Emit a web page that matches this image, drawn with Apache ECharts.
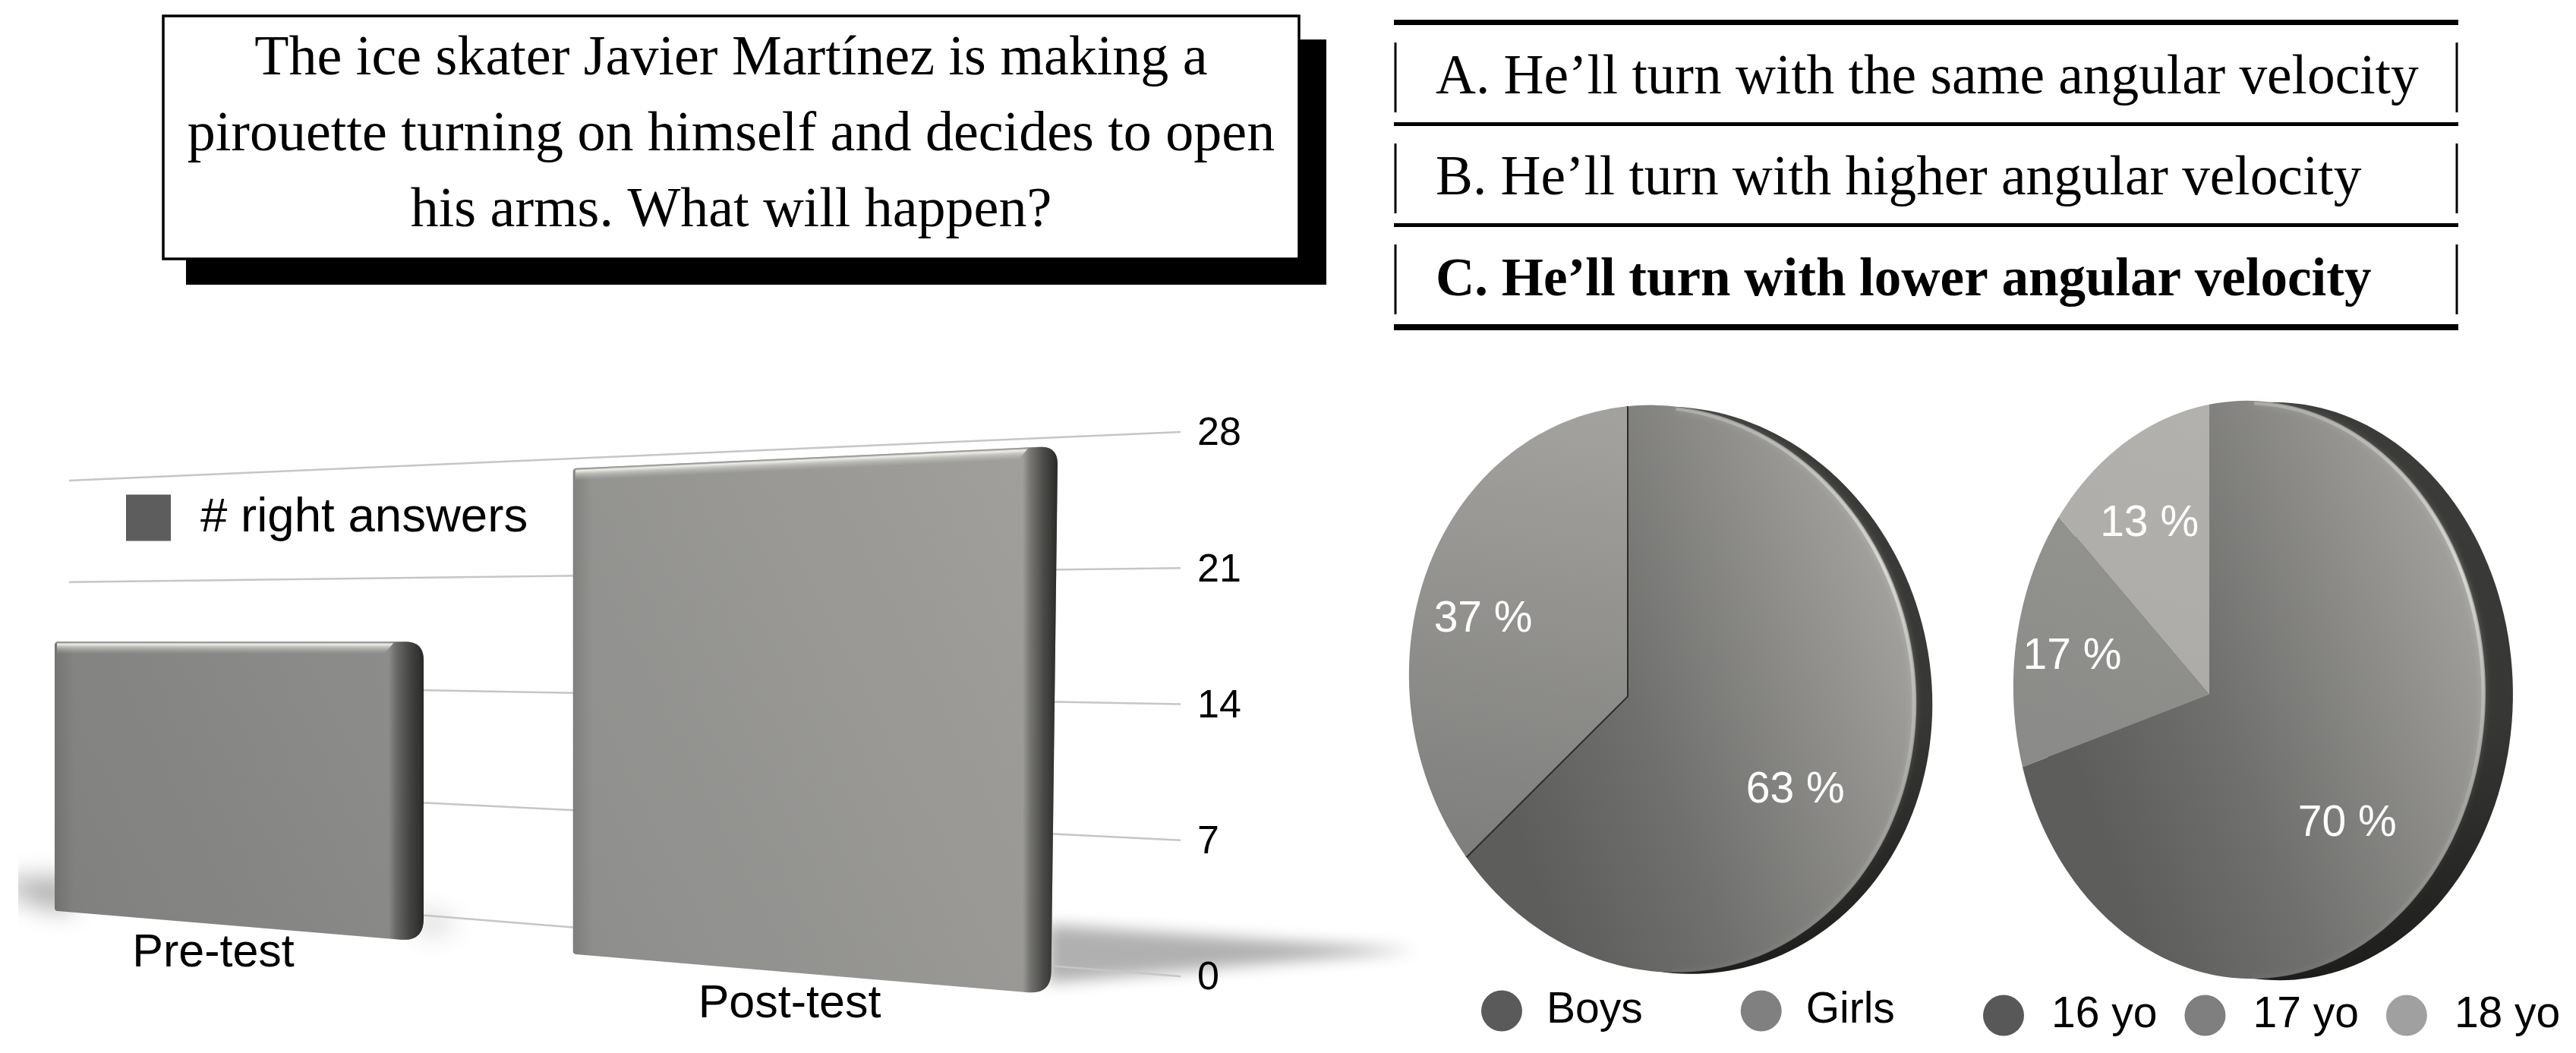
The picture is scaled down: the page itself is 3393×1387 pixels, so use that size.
<!DOCTYPE html>
<html>
<head>
<meta charset="utf-8">
<style>html,body{margin:0;padding:0;background:#fff}#c{width:3393px;height:1387px}</style>
<script src="https://cdn.jsdelivr.net/npm/echarts@6/dist/echarts.min.js"></script>
</head>
<body>
<div id="c"></div>
<script>
// ---------- data ----------
const categories = ['Pre-test', 'Post-test'];
const rightAnswers = [18, 28];
const barSeriesName = '# right answers';
const tickValues = [0, 7, 14, 21, 28];
const genderNames = ['Boys', 'Girls'];
const genderValues = [63, 37];
const ageNames = ['16 yo', '17 yo', '18 yo'];
const ageValues = [70, 17, 13];
const questionLines = [
  'The ice skater Javier Martínez is making a',
  'pirouette turning on himself and decides to open',
  'his arms. What will happen?'
];
const answerLines = [
  'A. He’ll turn with the same angular velocity',
  'B. He’ll turn with higher angular velocity',
  'C. He’ll turn with lower angular velocity'
];

// ---------- projection of the tilted bar chart ----------
const lerp = (a, b, t) => a + (b - a) * t;
const BACK = {xL: 91, xR: 1555, y0L: 1168, y0R: 1286, yTL: 633, yTR: 569};
const FRONT = {xL: 75, xR: 1385, y0L: 1200, y0R: 1309, yTL: 648, yTR: 588};
const GRID_W = 1450, X_STRETCH = 757 / 725;
const screenX = x => 315 + (x - GRID_W / 4) * X_STRETCH;
function planeY(pl, x, f) {
  const t = (x - pl.xL) / (pl.xR - pl.xL);
  return lerp(lerp(pl.y0L, pl.y0R, t), lerp(pl.yTL, pl.yTR, t), f);
}
function frac(api, v) {
  const b = api.coord([0, 0])[1], t = api.coord([0, 28])[1], p = api.coord([0, v])[1];
  return (b - p) / (b - t);
}
function barBox(api) {
  const i = api.value(0), v = api.value(1);
  const xc = screenX(api.coord([i, 0])[0]) + (i ? 2 : 0), band = api.size([1, 0])[0] * X_STRETCH;
  const w = band * lerp(0.642, 0.843, (xc - 315) / 757);
  const x0 = xc - w / 2, x1 = xc + w / 2, f = frac(api, v);
  const lean = (x, g) => x - Math.max(0, x - 740) * 0.0138 * (1 - g);
  return {i, xc, w, x0, x1, f,
    tl: [x0, planeY(FRONT, x0, f)], tr: [x1, planeY(FRONT, x1, f)],
    br: [lean(x1, 0), planeY(FRONT, x1, 0)], bl: [x0, planeY(FRONT, x0, 0)]};
}
function rounded(pts, radii) {
  const out = [], n = pts.length;
  pts.forEach((p, k) => {
    const a = pts[(k + n - 1) % n], b = pts[(k + 1) % n], r = radii[k];
    const la = Math.hypot(a[0] - p[0], a[1] - p[1]), lb = Math.hypot(b[0] - p[0], b[1] - p[1]);
    const s = [p[0] + (a[0] - p[0]) * r / la, p[1] + (a[1] - p[1]) * r / la];
    const e = [p[0] + (b[0] - p[0]) * r / lb, p[1] + (b[1] - p[1]) * r / lb];
    for (let j = 0; j <= 10; j++) {
      const u = j / 10;
      out.push([
        (1 - u) * (1 - u) * s[0] + 2 * u * (1 - u) * p[0] + u * u * e[0],
        (1 - u) * (1 - u) * s[1] + 2 * u * (1 - u) * p[1] + u * u * e[1]
      ]);
    }
  });
  return out;
}
const LG = (x, y, x2, y2, stops, g) => new echarts.graphic.LinearGradient(x, y, x2, y2,
  stops.map(s => ({offset: s[0], color: s[1]})), g);
const OFF = 6000;
function softShape(pts, blur, alpha) {
  return {type: 'polygon', silent: true,
    shape: {points: pts.map(p => [p[0] - OFF, p[1]])},
    style: {fill: '#000', shadowColor: 'rgba(0,0,0,' + alpha + ')', shadowBlur: blur, shadowOffsetX: OFF}};
}
function renderFloorShadow(params, api) {
  const b = barBox(api), br = b.br, ch = [];
  if (b.i === 0) {
    ch.push(softShape([[b.bl[0] + 20, b.bl[1] - 42], [b.bl[0] - 80, b.bl[1] - 38], [b.bl[0] - 50, b.bl[1] - 20], [b.bl[0] + 20, b.bl[1] + 2]], 34, 0.38));
    ch.push({type: 'rect', silent: true, shape: {x: 0, y: 1050, width: 24, height: 260}, style: {fill: '#fff'}});
    ch.push(softShape([[br[0] - 5, br[1] - 42], [br[0] + 50, br[1] - 22], [br[0] - 5, br[1] - 8]], 34, 0.2));
  } else {
    ch.push(softShape([[br[0] - 5, br[1] - 92], [br[0] + 480, br[1] - 58], [br[0] - 5, br[1] - 15]], 20, 0.31));
  }
  return {type: 'group', children: ch};
}
function renderGridLine(params, api) {
  const f = frac(api, api.value(1));
  return {type: 'line', silent: true,
    shape: {x1: BACK.xL, y1: planeY(BACK, BACK.xL, f), x2: BACK.xR, y2: planeY(BACK, BACK.xR, f)},
    style: {stroke: '#c6c6c6', lineWidth: 2.4}};
}
function renderBar(params, api) {
  const b = barBox(api);
  const outline = rounded([b.tl, b.tr, b.br, b.bl], [5, 24, 30, 4]);
  const s = 46 / b.w, sl = 26 / b.w;
  const m = (b.tr[1] - b.tl[1]) / (b.tr[0] - b.tl[0]);
  const xm = (b.x0 + b.x1) / 2, ym = (b.tl[1] + b.tr[1]) / 2;
  const hl = 16;
  const edge = (x, d) => [x, b.tl[1] + (x - b.x0) * m + d];
  return {type: 'group', children: [
    {type: 'polygon', silent: true, shape: {points: outline},
      style: {fill: LG(60, 1260, 1360, 620, [[0, '#7f7f7d'], [0.45, '#8e8e8c'], [1, '#a09f9c']], true)}},
    {type: 'polygon', silent: true, shape: {points: outline},
      style: {fill: LG(0, 0, 1, 0, [[0, 'rgba(40,40,38,.16)'], [sl, 'rgba(40,40,38,0)'], [1 - s, 'rgba(35,35,33,0)'], [1 - s * 0.78, 'rgba(35,35,33,.33)'], [1 - s * 0.4, 'rgba(35,35,33,.68)'], [1, 'rgba(35,35,33,.95)']])}},
    {type: 'polygon', silent: true,
      shape: {points: [edge(b.x0 + 3, 0), edge(b.x1 - 38, 0), edge(b.x1 - 52, hl), edge(b.x0 + 3, hl)]},
      style: {fill: LG(xm, ym, xm - m * hl, ym + hl, [[0, 'rgba(120,120,118,.5)'], [0.2, 'rgba(245,245,240,.95)'], [0.5, 'rgba(225,225,220,.5)'], [1, 'rgba(200,200,195,0)']], true)}},
    {type: 'text', silent: true,
      style: {text: categories[b.i], x: b.xc - 34, y: planeY(FRONT, b.xc, 0) + (b.i ? 40 : 36), fill: '#000',
        font: '61px "Liberation Sans"', align: 'center', verticalAlign: 'middle', textAlign: 'center', textVerticalAlign: 'middle'}}
  ]};
}

// ---------- projection of the tilted pies ----------
const PIE_A = {A: 327.4, E: 369, D: 20, g: -0.1407, h: 0.0336, side: 21};
const PIE_B = {A: 302, E: 375, D: 5, g: -0.170, h: 0.019, side: 36};
function pieProject(api, H, r, ang) {
  const c = api.coord([0, 0]), e = api.coord([1, 25]), R = Math.hypot(e[0] - c[0], e[1] - c[1]);
  const p = api.coord([r, ang]);
  const ux = (p[0] - c[0]) / R, uy = (p[1] - c[1]) / R;
  const den = 1 + H.g * ux + H.h * uy;
  return [c[0] + H.A * ux / den, c[1] + (H.D * ux + H.E * uy) / den];
}
function arc(api, H, a, b, r) {
  const n = Math.max(2, Math.ceil(Math.abs(b - a) * 2)), pts = [];
  for (let k = 0; k <= n; k++) pts.push(pieProject(api, H, r === undefined ? 1 : r, a + (b - a) * k / n));
  return pts;
}
function pieBase(H) {
  return (params, api) => {
    const pts = arc(api, H, 0, 100).map(p => [p[0] + H.side, p[1] + 2]);
    return {type: 'polygon', silent: true, shape: {points: pts},
      style: {fill: LG(0, 500, 0, 1300, [[0, '#3c3c3a'], [0.55, '#373735'], [1, '#1c1c1a']], true)}};
  };
}
function pieRim(H) {
  return (params, api) => ({type: 'polyline', silent: true,
    shape: {points: arc(api, H, 3, 47, 0.992)},
    style: {fill: null, stroke: LG(0, 540, 0, 1250, [[0, 'rgba(205,205,200,.45)'], [0.3, 'rgba(222,222,217,.9)'], [0.62, 'rgba(190,190,186,.55)'], [1, 'rgba(170,170,165,.05)']], true), lineWidth: 4,
      shadowBlur: 8, shadowColor: 'rgba(205,205,200,.7)'}});
}
function pieSlice(H, names, fillFn, divider) {
  return (params, api) => {
    const s = api.value(0), e = api.value(1), c = pieProject(api, H, 0, 0);
    const pts = arc(api, H, s, e); pts.push(c);
    const mid = pieProject(api, H, 0.68, (s + e) / 2);
    const ch = [{type: 'polygon', silent: true, shape: {points: pts}, style: {fill: fillFn(c)}}];
    if (divider) ch.push({type: 'polyline', silent: true,
      shape: {points: [pts[pts.length - 2], c, pts[0]]},
      style: {fill: null, stroke: '#2b2b29', lineWidth: 4}});
    ch.push({type: 'text', silent: true, z2: 10, style: {text: Math.round(e - s) + ' %', x: mid[0], y: mid[1] + 3, fill: '#fff',
      font: '57px "Liberation Sans"', align: 'center', verticalAlign: 'middle', textAlign: 'center', textVerticalAlign: 'middle'}});
    return {type: 'group', children: ch};
  };
}
const darkFace = c => LG(c[0] - 143, c[1] + 183, c[0] + 387, c[1] - 17, [[0, '#5d5d5b'], [0.35, '#6f6f6d'], [1, '#a09f9c']], true);
const girlsFace = c => LG(c[0] - 90, c[1] - 370, c[0] - 190, c[1] + 220, [[0, '#a2a19e'], [1, '#7e7e7c']], true);
const age17Face = c => LG(c[0] - 100, c[1] - 200, c[0] - 200, c[1] + 100, [[0, '#92928f'], [1, '#8a8a88']], true);
const age18Face = c => LG(c[0], c[1] - 370, c[0] - 100, c[1], [[0, '#b2b1ae'], [1, '#acaba8']], true);

function cumulative(vals) { let s = 0; return vals.map(v => { const r = [s, s + v]; s += v; return r; }); }

const series = [];
series.push({type: 'custom', name: 'floor', xAxisIndex: 0, yAxisIndex: 0, renderItem: renderFloorShadow,
  data: rightAnswers.map((v, i) => [i, v]), encode: {x: 0, y: 1}, silent: true, z: 1});
series.push({type: 'custom', name: 'grid lines', xAxisIndex: 0, yAxisIndex: 0, renderItem: renderGridLine,
  data: tickValues.map(v => [0, v]), encode: {x: 0, y: 1}, silent: true, z: 2});
series.push({type: 'custom', name: barSeriesName, xAxisIndex: 0, yAxisIndex: 0, renderItem: renderBar,
  itemStyle: {color: '#5d5d5d'},
  data: rightAnswers.map((v, i) => [i, v]), encode: {x: 0, y: 1}, silent: true, z: 3});

function addPie(idx, H, names, vals, legendColors, faces, divider) {
  const rng = cumulative(vals);
  series.push({type: 'custom', name: 'base' + idx, coordinateSystem: 'polar', polarIndex: idx, renderItem: pieBase(H), data: [[0, 100]], silent: true, z: 4});
  names.forEach((n, i) => series.push({type: 'custom', name: n, coordinateSystem: 'polar', polarIndex: idx,
    renderItem: pieSlice(H, names, faces[i], divider && i === 0), itemStyle: {color: legendColors[i]},
    data: [rng[i]], silent: true, z: 5 + i}));
  series.push({type: 'custom', name: 'rim' + idx, coordinateSystem: 'polar', polarIndex: idx, renderItem: pieRim(H), data: [[0, 100]], silent: true, z: 5});
}
addPie(0, PIE_A, genderNames, genderValues, ['#5a5a5a', '#808080'], [darkFace, girlsFace], true);
addPie(1, PIE_B, ageNames, ageValues, ['#585858', '#7f7f7f', '#a0a0a0'], [darkFace, age17Face, age18Face], false);

// ---------- static text blocks ----------
const serif = '"Liberation Serif"';
const graphic = [];
graphic.push({type: 'rect', shape: {x: 245, y: 52, width: 1502, height: 323}, style: {fill: '#000'}, z: 10});
graphic.push({type: 'rect', shape: {x: 215, y: 21, width: 1496, height: 320}, style: {fill: '#fff', stroke: '#000', lineWidth: 3.5}, z: 11});
[79, 179, 279].forEach((y, i) => graphic.push({type: 'text', z: 12, x: 963, y: y,
  style: {text: questionLines[i], fill: '#000', font: '74px ' + serif, textAlign: 'center', textVerticalAlign: 'middle', align: 'center', verticalAlign: 'middle'}}));
[[26, 7], [161, 5], [294, 5], [427, 8]].forEach(r => graphic.push({type: 'rect', z: 12,
  shape: {x: 1836, y: r[0], width: 1402, height: r[1]}, style: {fill: '#000'}}));
[[56, 148], [189, 281], [322, 414]].forEach(r => [1838, 3236].forEach(x => graphic.push({type: 'rect', z: 12,
  shape: {x: x - 1.5, y: r[0], width: 3, height: r[1] - r[0]}, style: {fill: '#000'}})));
[104, 237, 371].forEach((y, i) => graphic.push({type: 'text', z: 12, x: 1891, y: y,
  style: {text: answerLines[i], fill: '#000', font: (i === 2 ? 'bold 71px ' : '73.3px ') + serif, textAlign: 'left', align: 'left', textVerticalAlign: 'middle', verticalAlign: 'middle'}}));

const legendFont = {fontFamily: 'Liberation Sans', color: '#000'};
const option = {
  animation: false,
  backgroundColor: '#fff',
  grid: {left: 0, width: GRID_W, top: 572, height: 717, containLabel: false},
  xAxis: [{type: 'category', data: categories, show: false}],
  yAxis: [{type: 'value', min: 0, max: 28, interval: 7, position: 'right', splitLine: {show: false},
    axisLine: {show: false}, axisTick: {show: false},
    axisLabel: {margin: 127, fontSize: 52, fontFamily: 'Liberation Sans', color: '#000', align: 'left'}}],
  polar: [{center: [2143, 917], radius: 380}, {center: [2910, 915], radius: 380}],
  angleAxis: [0, 1].map(i => ({polarIndex: i, type: 'value', min: 0, max: 100, startAngle: 90, clockwise: true, show: false})),
  radiusAxis: [0, 1].map(i => ({polarIndex: i, type: 'value', min: 0, max: 1, show: false})),
  legend: [
    {data: [barSeriesName], left: 166, top: 650, orient: 'horizontal', padding: 0, selectedMode: false, icon: 'rect',
      itemWidth: 59, itemHeight: 61, textStyle: Object.assign({fontSize: 63.6, padding: [32, 0, 0, 34]}, legendFont)},
    {data: genderNames, left: 1951, top: 1303, padding: 0, selectedMode: false, icon: 'circle', itemWidth: 54, itemHeight: 54, itemGap: 129,
      textStyle: Object.assign({fontSize: 57, padding: [30, 0, 0, 27]}, legendFont)},
    {data: ageNames, left: 2612, top: 1309, padding: 0, selectedMode: false, icon: 'circle', itemWidth: 54, itemHeight: 54, itemGap: 36,
      textStyle: Object.assign({fontSize: 57, padding: [30, 0, 0, 31]}, legendFont)}
  ],
  tooltip: {show: false},
  graphic: {elements: graphic},
  series: series
};
const chart = echarts.init(document.getElementById('c'), null, {width: 3393, height: 1387});
chart.setOption(option);
</script>
</body>
</html>
